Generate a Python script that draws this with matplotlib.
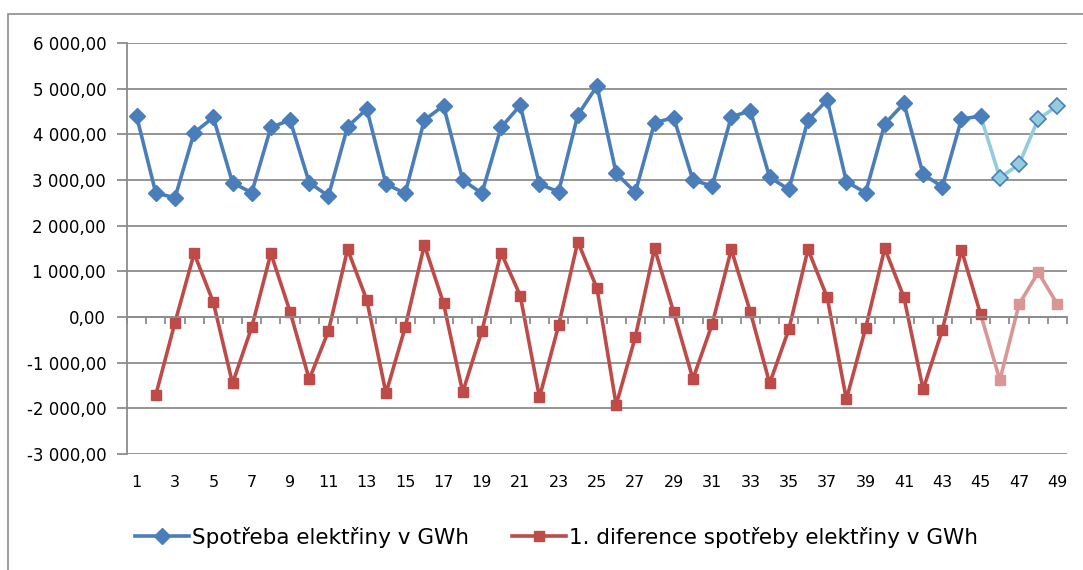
import numpy as np
import matplotlib
matplotlib.use('Agg')
import matplotlib.pyplot as plt
from matplotlib.patches import Rectangle
from matplotlib.ticker import FuncFormatter

plt.rcParams['font.family'] = ['DejaVu Sans']

# Data
periods = list(range(1, 50))
spotreba = [4400, 2715, 2612, 4036, 4372, 2941, 2722, 4153, 4313, 2941,
            2650, 4168, 4554, 2912, 2708, 4313, 4627, 3000, 2708, 4153,
            4635, 2905, 2744, 4423, 5058, 3146, 2730, 4255, 4365, 3000,
            2868, 4387, 4511, 3058, 2795, 4313, 4751, 2963, 2722, 4226,
            4679, 3124, 2854, 4335, 4401, 3050, 3343, 4335, 4620]
diference = [np.nan, -1708, -124, 1394, 321, -1453, -226, 1394, 117, -1365,
             -307, 1481, 372, -1671, -226, 1577, 299, -1649, -307, 1409,
             467, -1759, -183, 1649, 627, -1927, -431, 1503, 102, -1357,
             -161, 1481, 102, -1453, -270, 1481, 430, -1803, -248, 1503,
             430, -1584, -285, 1467, 58, -1380, 277, 978, 277]
n_known = 45  # last observed period, rest is forecast

x = np.array(periods)
s = np.array(spotreba, dtype=float)
d = np.array(diference, dtype=float)

blue, blue_light = '#4A7EBB', '#93CDDD'
red, red_light = '#BE4B48', '#D99694'
grid = '#8C8C8C'

fig = plt.figure(figsize=(10.83, 5.70), dpi=100)
fig.patches.append(Rectangle((8 / 1083, -0.1), 1.2, 1 - 14 / 570 + 0.1,
                             transform=fig.transFigure, fill=False,
                             edgecolor='#8C8C8C', linewidth=1.2))
ax = fig.add_axes([127 / 1083, 1 - 454 / 570, 940 / 1083, 411 / 570])

k = n_known - 1
# forecast parts (light)
ax.plot(x[k:], s[k:], color=blue_light, lw=2.6, zorder=3)
ax.plot(x[k + 1:], s[k + 1:], ls='none', marker='D', ms=8,
        mfc=blue_light, mec=blue, mew=1.2, zorder=4)
ax.plot(x[k:], d[k:], color=red_light, lw=2.6, zorder=3,
        marker='s', ms=7.5, mfc=red_light, mec=red_light, markevery=list(range(1, 5)))
# observed parts
ax.plot(x[:n_known], s[:n_known], color=blue, lw=2.6, marker='D', ms=8.5,
        mec=blue, zorder=5, label='Spotřeba elektřiny v GWh')
ax.plot(x[:n_known], d[:n_known], color=red, lw=2.6, marker='s', ms=7.5,
        mec=red, zorder=5, label='1. diference spotřeby elektřiny v GWh')

ax.set_xlim(0.5, 49.5)
ax.set_ylim(-3000, 6000)
ax.set_yticks(np.arange(-3000, 6001, 1000))
ax.yaxis.set_major_formatter(FuncFormatter(
    lambda v, p: '{:,.2f}'.format(v).replace(',', ' ').replace('.', ',')))
ax.grid(axis='y', color=grid, lw=1.3)
ax.set_axisbelow(True)
ax.set_xticks(x[::2])
ax.tick_params(axis='x', length=0, pad=15, labelsize=11.5)
ax.tick_params(axis='y', length=7, width=1.3, color=grid, labelsize=12, pad=8)
for sp in ['top', 'right', 'bottom']:
    ax.spines[sp].set_visible(False)
ax.spines['left'].set_color(grid)
ax.spines['left'].set_linewidth(1.3)

# category axis crossing at zero, with tick marks between categories
ax2 = ax.twiny()
ax2.set_xlim(ax.get_xlim())
ax2.xaxis.set_ticks_position('bottom')
ax2.spines['bottom'].set_position(('data', 0))
ax2.spines['bottom'].set_color(grid)
ax2.spines['bottom'].set_linewidth(1.3)
for sp in ['top', 'right', 'left']:
    ax2.spines[sp].set_visible(False)
ax2.set_xticks(np.arange(0.5, 50, 1))
ax2.set_xticklabels([])
ax2.tick_params(axis='x', direction='out', length=5, width=1.3, color=grid)

handles, labels = ax.get_legend_handles_labels()
fig.legend(handles, labels, loc='center', bbox_to_anchor=(0.514, 1 - 537 / 570),
           ncol=2, frameon=False, fontsize=15.5, handlelength=2.5,
           columnspacing=2.0, handletextpad=0.15)

fig.savefig('out.png', dpi=100)
